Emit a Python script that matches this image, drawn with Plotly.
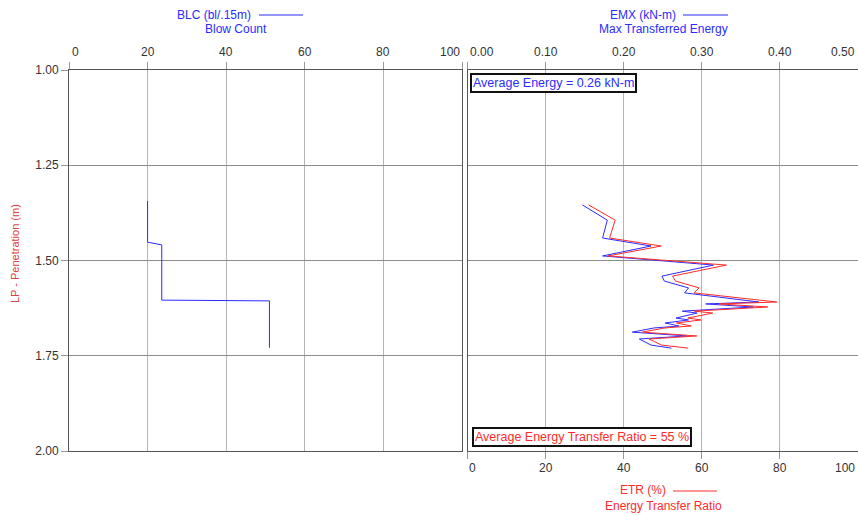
import plotly.graph_objects as go

# ---------------- data ----------------
depth_ticks = [1.00, 1.25, 1.50, 1.75, 2.00]
depth_ticklabels = ["1.00", "1.25", "1.50", "1.75", "2.00"]
blc_ticks = [0, 20, 40, 60, 80, 100]
blc_ticklabels = ["0", "20", "40", "60", "80", "100"]
emx_ticks = [0.0, 0.1, 0.2, 0.3, 0.4, 0.5]
emx_ticklabels = ["0.00", "0.10", "0.20", "0.30", "0.40", "0.50"]
etr_ticks = [0, 20, 40, 60, 80, 100]
etr_ticklabels = ["0", "20", "40", "60", "80", "100"]

blc_depth = [1.344, 1.452, 1.459, 1.604, 1.606, 1.729]
blc_values = [20, 20, 23.6, 23.6, 51, 51]

emx_depth = [1.354, 1.394, 1.441, 1.462, 1.488, 1.512, 1.541, 1.554, 1.572, 1.585,
             1.609, 1.614, 1.622, 1.633, 1.638, 1.651, 1.656, 1.664, 1.672, 1.677,
             1.688, 1.698, 1.706, 1.722, 1.730]
emx_values = [0.147, 0.179, 0.173, 0.235, 0.173, 0.315, 0.249, 0.252, 0.283, 0.278,
              0.373, 0.305, 0.366, 0.275, 0.294, 0.267, 0.283, 0.253, 0.271, 0.239,
              0.211, 0.281, 0.220, 0.235, 0.261]
etr_depth = [1.354, 1.394, 1.441, 1.462, 1.488, 1.512, 1.541, 1.554, 1.572, 1.585,
             1.609, 1.614, 1.622, 1.633, 1.638, 1.651, 1.656, 1.664, 1.672, 1.677,
             1.688, 1.698, 1.706, 1.722, 1.730]
etr_values = [31.0, 37.8, 36.4, 49.6, 36.0, 66.3, 52.5, 53.3, 59.3, 58.0,
              79.2, 64.4, 76.9, 58.1, 62.8, 56.4, 59.8, 53.5, 57.3, 50.5,
              44.8, 58.7, 46.5, 49.7, 56.5]

avg_energy = 0.26
avg_etr = 55

# ---------------- layout helpers ----------------
W, H = 858, 515
def px(x):
    return x / W
def py(y):
    return 1 - y / H

FONT = "Liberation Sans, Arial, sans-serif"
BLUE = "#2b2bff"
RED = "#ff2b2b"
TXT = "#333333"

fig = go.Figure()
fig.add_trace(go.Scatter(x=blc_values, y=blc_depth, mode="lines",
                         line=dict(color=BLUE, width=1), xaxis="x", yaxis="y"))
fig.add_trace(go.Scatter(x=etr_values, y=etr_depth, mode="lines",
                         line=dict(color=RED, width=1), xaxis="x3", yaxis="y2"))
fig.add_trace(go.Scatter(x=emx_values, y=emx_depth, mode="lines",
                         line=dict(color=BLUE, width=1), xaxis="x2", yaxis="y2"))

ydom = [py(451), py(70)]
xdom1 = [px(69), px(462)]
xdom2 = [px(467.5), 1.0]

common_x = dict(showline=True, linecolor="#555555", linewidth=1,
                ticks="outside", ticklen=7, tickcolor="#999999",
                showticklabels=False, zeroline=False, automargin=False,
                gridcolor="#b4b4b4", gridwidth=1, fixedrange=True)

fig.update_layout(
    template="none",
    width=W, height=H,
    margin=dict(l=0, r=0, t=0, b=0, pad=0),
    paper_bgcolor="white", plot_bgcolor="white",
    showlegend=False,
    font=dict(family=FONT, size=12, color=TXT),
    xaxis=dict(domain=xdom1, range=[0, 100], side="top", anchor="y",
               tickvals=blc_ticks, mirror=True, showgrid=True, **common_x),
    xaxis2=dict(domain=xdom2, range=[0, 0.5], side="top", anchor="y2",
                tickvals=emx_ticks, showgrid=True, **common_x),
    xaxis3=dict(domain=xdom2, range=[0, 100], side="bottom", anchor="y2",
                overlaying="x2", tickvals=etr_ticks, showgrid=False, **common_x),
    yaxis=dict(domain=ydom, range=[2.0, 1.0], anchor="x",
               tickvals=depth_ticks, ticktext=depth_ticklabels,
               showline=True, linecolor="#555555", mirror=True,
               ticks="outside", ticklen=7, tickcolor="#999999",
               gridcolor="#8c8c8c", zeroline=False, fixedrange=True,
               automargin=False,
               tickfont=dict(family=FONT, size=12, color=TXT)),
    yaxis2=dict(domain=ydom, range=[2.0, 1.0], anchor="x2",
                tickvals=depth_ticks, showticklabels=False,
                showline=True, linecolor="#555555", ticks="",
                gridcolor="#8c8c8c", zeroline=False, fixedrange=True,
                automargin=False),
)

annotations = []
# y-axis title
annotations.append(dict(text="LP - Penetration (m)", xref="paper", yref="paper",
                        x=px(15), y=py(254), textangle=-90, showarrow=False,
                        font=dict(family=FONT, size=11, color="#e04040"),
                        xanchor="center", yanchor="middle"))

def tick_annots(vals, labels, xref, ycenter, shift_first, shift_last):
    out = []
    n = len(vals)
    for i, (v, t) in enumerate(zip(vals, labels)):
        if i == 0:
            anchor, sh = "left", shift_first
        elif i == n - 1:
            anchor, sh = "right", shift_last
        else:
            anchor, sh = "center", 0
        out.append(dict(text=t, xref=xref, yref="paper", x=v, y=py(ycenter),
                        xanchor=anchor, yanchor="middle", xshift=sh,
                        showarrow=False, font=dict(family=FONT, size=12, color=TXT)))
    return out

annotations += tick_annots(blc_ticks, blc_ticklabels, "x", 52, 1, 0)
annotations += tick_annots(emx_ticks, emx_ticklabels, "x2", 52, 1, -1)
annotations += tick_annots(etr_ticks, etr_ticklabels, "x3", 468, 0, -1)

# legend-like titles
def title(text, xc, yc, color):
    return dict(text=text, xref="paper", yref="paper", x=px(xc), y=py(yc),
                xanchor="center", yanchor="middle", showarrow=False,
                font=dict(family=FONT, size=12, color=color))

annotations += [
    title("BLC (bl/.15m)", 214, 15, BLUE),
    title("Blow Count", 235.5, 29, BLUE),
    title("EMX (kN-m)", 642.5, 15, BLUE),
    title("Max Transferred Energy", 663, 29, BLUE),
    title("ETR (%)", 643, 490, RED),
    title("Energy Transfer Ratio", 663, 506, RED),
]

# average boxes
annotations.append(dict(text=f"Average Energy = {avg_energy:.2f} kN-m",
                        xref="paper", yref="paper", x=px(470), y=py(73),
                        xanchor="left", yanchor="top", showarrow=False,
                        bordercolor="#111111", borderwidth=2, borderpad=1,
                        bgcolor="white", font=dict(family=FONT, size=12.5, color=BLUE)))
annotations.append(dict(text=f"Average Energy Transfer Ratio = {avg_etr} %",
                        xref="paper", yref="paper", x=px(471.5), y=py(427),
                        xanchor="left", yanchor="top", showarrow=False,
                        bordercolor="#111111", borderwidth=2, borderpad=1,
                        bgcolor="white", font=dict(family=FONT, size=12.5, color=RED)))

fig.update_layout(annotations=annotations)

shapes = [
    dict(type="line", xref="paper", yref="paper", x0=px(259), x1=px(303),
         y0=py(15), y1=py(15), line=dict(color=BLUE, width=1)),
    dict(type="line", xref="paper", yref="paper", x0=px(683), x1=px(728),
         y0=py(15), y1=py(15), line=dict(color=BLUE, width=1)),
    dict(type="line", xref="paper", yref="paper", x0=px(673), x1=px(717),
         y0=py(491), y1=py(491), line=dict(color=RED, width=1)),
]
fig.update_layout(shapes=shapes)

fig.write_html("out.html", config={"displayModeBar": False},
               post_script="document.body.style.margin='0';")
